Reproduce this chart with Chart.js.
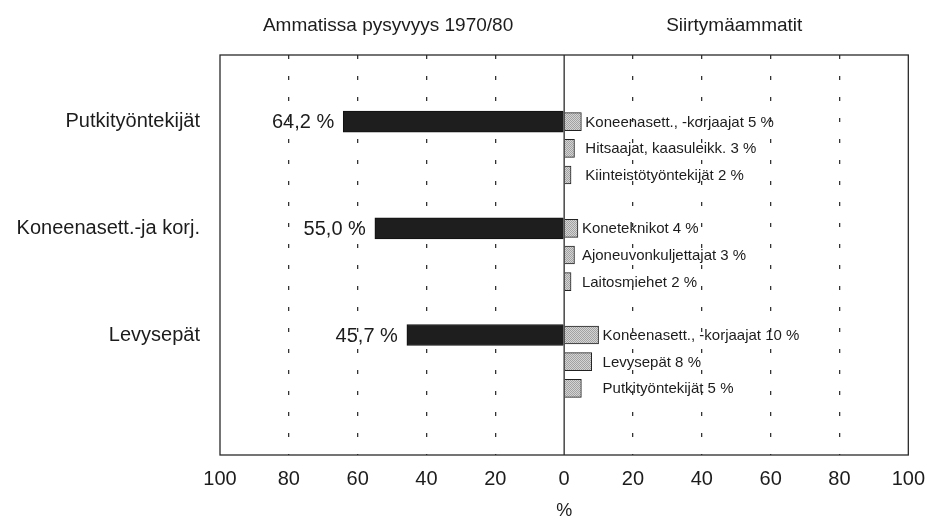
<!DOCTYPE html>
<html>
<head>
<meta charset="utf-8">
<script src="https://cdn.jsdelivr.net/npm/chart.js@4.4.0/dist/chart.umd.min.js"></script>
<style>
  html, body { margin: 0; background: #fff; }
  canvas { display: block; }
</style>
</head>
<body>
<canvas id="chart" width="937" height="522"></canvas>
<script>
// Données
const occupations = ["Putkityöntekijät", "Koneenasett.-ja korj.", "Levysepät"];
const stayShares = [64.2, 55.0, 45.7];
const stayLabels = ["64,2 %", "55,0 %", "45,7 %"];
const transitionNames = [
    ["Koneenasett., -korjaajat", "Hitsaajat, kaasuleikk.", "Kiinteistötyöntekijät"],
    ["Koneteknikot", "Ajoneuvonkuljettajat", "Laitosmiehet"],
    ["Koneenasett., -korjaajat", "Levysepät", "Putkityöntekijät"]
];
const transitionShares = [
    [5, 3, 2],
    [4, 3, 2],
    [10, 8, 5]
];
const xTickValues = [-100, -80, -60, -40, -20, 0, 20, 40, 60, 80, 100];
const leftTitle = "Ammatissa pysyvyys 1970/80";
const rightTitle = "Siirtymäammatit";

const FONT = "'Liberation Sans', Arial, Helvetica, sans-serif";
const INK = "#1c1c1c";

// Construction des lignes : deux lignes vides, puis 3 lignes par groupe séparées par une ligne vide
const rowLabels = [];
const stayData = [];
const transData = [];
const groupRows = [];

function pushEmptyRow() {
    rowLabels.push("");
    stayData.push(null);
    transData.push(null);
}

pushEmptyRow();
pushEmptyRow();
occupations.forEach((occ, g) => {
    if (g > 0) pushEmptyRow();
    groupRows.push(rowLabels.length);
    transitionShares[g].forEach((v, i) => {
        rowLabels.push(i === 0 ? occ : "");
        stayData.push(i === 0 ? -stayShares[g] : null);
        transData.push(v);
    });
});
while (rowLabels.length < 15) pushEmptyRow();

// Motif gris pointillé des barres de droite
function makeStipple() {
    const c = document.createElement("canvas");
    c.width = 2;
    c.height = 2;
    const cx = c.getContext("2d");
    cx.fillStyle = "#d4d4d4";
    cx.fillRect(0, 0, 2, 2);
    cx.fillStyle = "#a2a2a2";
    cx.fillRect(0, 0, 1, 1);
    cx.fillRect(1, 1, 1, 1);
    return cx.createPattern(c, "repeat");
}

const canvas = document.getElementById("chart");
const ctx = canvas.getContext("2d");

// Plugin : cadre, ligne du zéro, étiquettes et titres
const decorPlugin = {
    id: "decor",
    afterDatasetsDraw(chart) {
        const { ctx, chartArea: a, scales: { x, y } } = chart;
        ctx.save();
        // cadre
        ctx.strokeStyle = "#2a2a2a";
        ctx.lineWidth = 1.3;
        ctx.strokeRect(a.left, a.top, a.right - a.left, a.bottom - a.top);
        // ligne du zéro
        const x0 = x.getPixelForValue(0);
        ctx.beginPath();
        ctx.moveTo(x0, a.top);
        ctx.lineTo(x0, a.bottom);
        ctx.stroke();

        // étiquettes des barres noires
        ctx.fillStyle = INK;
        ctx.textBaseline = "middle";
        ctx.font = "20px " + FONT;
        ctx.textAlign = "right";
        groupRows.forEach((r, g) => {
            ctx.fillText(stayLabels[g], x.getPixelForValue(-stayShares[g]) - 9, y.getPixelForValue(r) + 1);
        });

        // étiquettes des barres grises
        ctx.font = "15px " + FONT;
        ctx.textAlign = "left";
        groupRows.forEach((r, g) => {
            const maxV = Math.max(...transitionShares[g]);
            const lx = x.getPixelForValue(maxV) + 4;
            transitionNames[g].forEach((name, i) => {
                ctx.fillText(name + " " + transitionShares[g][i] + " %", lx, y.getPixelForValue(r + i) + 1);
            });
        });

        // titres du haut
        ctx.font = "19px " + FONT;
        ctx.textAlign = "center";
        ctx.fillText(leftTitle, x.getPixelForValue(-50) - 4, 26);
        ctx.fillText(rightTitle, x.getPixelForValue(50) - 2, 26);
        ctx.restore();
    }
};

new Chart(ctx, {
    type: "bar",
    data: {
        labels: rowLabels,
        datasets: [
            {
                label: leftTitle,
                data: stayData,
                backgroundColor: "#1e1e1e",
                borderColor: "#111",
                borderWidth: 1,
                barThickness: 21,
                grouped: false
            },
            {
                label: rightTitle,
                data: transData,
                backgroundColor: makeStipple(),
                borderColor: "#222",
                borderWidth: 1,
                barThickness: 18,
                grouped: false
            }
        ]
    },
    options: {
        indexAxis: "y",
        responsive: false,
        animation: false,
        layout: { padding: { top: 55, right: 27, left: 0, bottom: 0 } },
        plugins: {
            legend: { display: false },
            tooltip: { enabled: false }
        },
        scales: {
            x: {
                min: -100,
                max: 100,
                afterBuildTicks: (s) => { s.ticks = xTickValues.map(v => ({ value: v })); },
                afterFit: (s) => { s.height = 67; },
                ticks: {
                    callback: (v) => String(Math.abs(v)),
                    color: INK,
                    font: { family: FONT, size: 20 },
                    padding: 12,
                    maxRotation: 0
                },
                grid: {
                    drawTicks: false,
                    color: (c) => (c.tick && c.tick.value === 0) || Math.abs(c.tick && c.tick.value) === 100 ? "rgba(0,0,0,0)" : "#333",
                    lineWidth: 1.3
                },
                border: { display: false, dash: [4, 17], dashOffset: 0 },
                title: {
                    display: true,
                    text: "%",
                    color: INK,
                    font: { family: FONT, size: 18 },
                    padding: { top: 0, bottom: 0 }
                }
            },
            y: {
                afterFit: (s) => { s.width = 220; },
                ticks: {
                    autoSkip: false,
                    color: INK,
                    font: { family: FONT, size: 20 },
                    padding: 20
                },
                grid: { display: false, drawTicks: false },
                border: { display: false }
            }
        }
    },
    plugins: [decorPlugin]
});
</script>
</body>
</html>
